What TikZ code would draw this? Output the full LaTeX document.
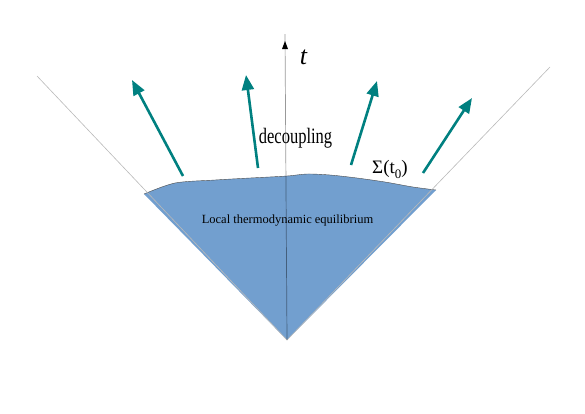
\documentclass[tikz,border=0pt]{standalone}
\usepackage{fontspec}
\setmainfont{Liberation Serif}
\newfontfamily\narrowfont[FakeStretch=0.75]{Liberation Serif}
\usetikzlibrary{arrows.meta}
\definecolor{coneblue}{RGB}{114,159,207}
\definecolor{flowteal}{RGB}{0,128,128}

\begin{document}
\begin{tikzpicture}[x=1pt, y=-1pt,
      cone/.style={fill=coneblue},
      surface/.style={draw=gray!60!black, line width=0.4pt},
      edge/.style={draw=gray!55, line width=0.6pt},
      axis/.style={draw=black, draw opacity=0.4, line width=0.7pt},
      flow/.style={draw=flowteal, line width=2.6pt, -{Triangle[length=15pt, width=12pt]}},
      label/.style={inner sep=0pt, anchor=base}
    ]
    \useasboundingbox (0,0) rectangle (585,413);

    % Light cone
    \coordinate (apex) at (287,340);
    \coordinate (lend) at (37,76);
    \coordinate (rend) at (550,67);
    \coordinate (taxis) at (285,41);

    % Equilibrium region
    \fill[cone] (apex) -- plot[smooth, tension=0.5] coordinates {(144,194) (175,183) (215,180) (250,178) (287,176) (307,174) (330,175) (357,178) (385,182) (413,187) (436,190)} -- cycle;
    \draw[surface] plot[smooth, tension=0.5] coordinates {(144,194) (175,183) (215,180) (250,178) (287,176) (307,174) (330,175) (357,178) (385,182) (413,187) (436,190)};
    \draw[edge] (lend) -- (apex) -- (rend);
    \draw[axis] (apex) -- ([yshift=7pt]taxis);
    \fill (taxis) -- ++(-3,8) -- ++(6,0) -- cycle;

    % Decoupling flow
    \coordinate (a1s) at (183,176); \coordinate (a1e) at (132,80);
    \coordinate (a2s) at (258,168); \coordinate (a2e) at (246,75);
    \coordinate (a3s) at (351,165); \coordinate (a3e) at (377,81);
    \coordinate (a4s) at (423,173); \coordinate (a4e) at (472,98);
    \draw[flow] (a1s) -- (a1e);
    \draw[flow] (a2s) -- (a2e);
    \draw[flow] (a3s) -- (a3e);
    \draw[flow] (a4s) -- (a4e);

    % Labels
    \node[label] (tlabel) at (303.5,64) {\fontsize{26}{26}\selectfont\itshape t};
    \node[label] (decoup) at (295.5,143) {\narrowfont\fontsize{22}{22}\selectfont decoupling};
    \node[label, anchor=base west] (sigma) at (372,173) {\fontsize{19}{19}\selectfont Σ(t\raisebox{-5pt}{\fontsize{13}{13}\selectfont 0})};
    \node[label] (lte) at (287.5,223) {\fontsize{12.5}{12.5}\selectfont Local thermodynamic equilibrium};
  \end{tikzpicture}
\end{document}
